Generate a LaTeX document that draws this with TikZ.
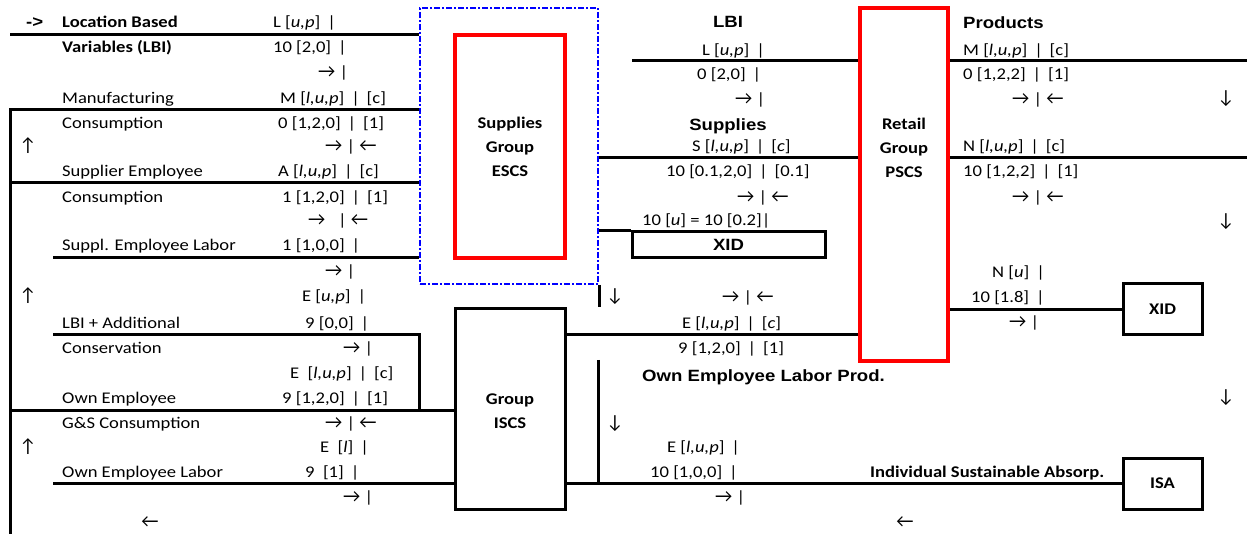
\documentclass[tikz,border=0pt]{standalone}
\usepackage{fontspec}
\setmainfont{Carlito}[FakeStretch=1.14]
\newfontfamily\arialf{Liberation Sans}[FakeStretch=1.14]
\newfontfamily\arrf{Carlito}
\newcommand\myfs{\fontsize{16.3}{19.5}\selectfont}
\newcommand\myra{{\arrf\fontsize{19}{19}\selectfont →}}
\newcommand\myla{{\arrf\fontsize{19}{19}\selectfont ←}}
\tikzset{
 tx/.style={anchor=west, inner sep=0pt, text height=10.5pt, text depth=0pt, font=\myfs},
 txb/.style={tx, font=\myfs\bfseries},
 txa/.style={tx, font=\arialf\bfseries\myfs},
 sym/.style={inner sep=0pt, anchor=center, font=\arrf\fontsize{19}{19}\selectfont},
 ln/.style={line width=3pt},
 bbox/.style={draw, line width=3pt, inner sep=0pt},
 rbox/.style={draw=red, line width=3.5pt, inner sep=0pt},
 dbox/.style={draw=blue, line width=2pt, dash pattern=on 6pt off 2pt on 2pt off 2pt, inner sep=0pt},
 boxlab/.style={align=center, inner sep=0pt, font=\bfseries\fontsize{16.3}{24}\selectfont},
}
\begin{document}
\begin{tikzpicture}[x=1pt,y=-1pt]
\useasboundingbox (0,0) rectangle (1247,534);

% boxes
\node[dbox, minimum width=178pt, minimum height=276pt] (outer) at (509,146) {};
\node[rbox, minimum width=110pt, minimum height=223pt, boxlab] (escs) at (510,146.5) {Supplies\\Group\\ESCS};
\node[rbox, minimum width=88pt, minimum height=353pt] (retail) at (904,184.5) {};
\node[boxlab] (retaillab) at (904,148) {Retail\\Group\\PSCS};
\node[bbox, minimum width=110pt, minimum height=200pt] (iscs) at (510,409) {};
\node[boxlab] (iscslab) at (510,411) {Group\\ISCS};
\node[bbox, minimum width=193pt, minimum height=26pt, font=\arialf\bfseries\myfs] (xid1) at (728.5,245) {XID};
\node[bbox, minimum width=79pt, minimum height=51pt, font=\bfseries\myfs] (xid2) at (1162.5,309.5) {XID};
\node[bbox, minimum width=79pt, minimum height=51pt, font=\bfseries\myfs] (isa) at (1162.5,483.5) {ISA};

% coordinates
\coordinate (p1) at (10,35);
\coordinate (p2) at (10,110);
\coordinate (pb) at (10,534);
\coordinate (p3) at (10,183);
\coordinate (p4) at (53,258);
\coordinate (p5) at (53,335);
\coordinate (p6) at (10,410);
\coordinate (p7) at (53,483);
\coordinate (q1) at (632,61);
\coordinate (q2) at (598,158);
\coordinate (q5) at (598,335);
\coordinate (q6) at (598,360);
\coordinate (e1) at (1247,61);
\coordinate (e2) at (1247,158);

% connectors
\draw[ln] (p1) -- (p1 -| outer.west);
\draw[ln] (p2 -| outer.west) -- (p2) -- (pb);
\draw[ln] (p3) -- (p3 -| outer.west);
\draw[ln] (p4) -- (p4 -| outer.west);
\draw[ln] (p5) -- (p5 -| outer.west) -- (p6 -| outer.west);
\draw[ln] (p6) -- (p6 -| iscs.west);
\draw[ln] (p7) -- (p7 -| iscs.west);
\draw[ln] (q1) -- (q1 -| retail.west);
\draw[ln] (q2 -| outer.east) -- (q2 -| retail.west);
\draw[ln] (xid1.north west -| outer.east) -- (xid1.north west);
\draw[ln] (outer.south east) -- (outer.south east |- iscs.north);
\draw[ln] (q5 -| iscs.east) -- (q5 -| retail.west);
\draw[ln] (q6) -- (q6 |- p7);
\draw[ln] (p7 -| iscs.east) -- (p7 -| isa.west);
\draw[ln] (q1 -| retail.east) -- (e1);
\draw[ln] (q2 -| retail.east) -- (e2);
\draw[ln] (xid2.west -| retail.east) -- (xid2.west);

% left column labels
\node[txa] (arin) at (26,22) {->};
\node[txb] (lA) at (62,22) {Location Based};
\node[txb] (lB) at (62,47) {Variables (LBI)};
\node[tx] (lC) at (62,98) {Manufacturing};
\node[tx] (lD) at (62,123) {Consumption};
\node[tx] (lE) at (62,171) {Supplier Employee};
\node[tx] (lF) at (62,197) {Consumption};
\node[tx] (lG) at (62,245) {Suppl. Employee Labor};
\node[tx] (lH) at (62,323) {LBI + Additional};
\node[tx] (lI) at (62,348) {Conservation};
\node[tx] (lJ) at (62,398) {Own Employee};
\node[tx] (lK) at (62,423) {G\&S Consumption};
\node[tx] (lL) at (62,472) {Own Employee Labor};
\node[sym] (u1) at (28,146) {↑};
\node[sym] (u2) at (28,296) {↑};
\node[sym] (u3) at (28,447) {↑};
\node[sym] (lb) at (150,522) {←};

% left values
\node[tx] (v1) at (273,22) {L [\textit{u,p}] \,|};
\node[tx] (v2) at (273,47) {10 [2,0] \,|};
\node[tx] (v3) at (318,72) {\myra\ |};
\node[tx] (v4) at (280,98) {M [\textit{l,u,p}] \,| \,[c]};
\node[tx] (v5) at (278,123) {0 [1,2,0] \,| \,[1]};
\node[tx] (v6) at (325,146) {\myra\ | \myla};
\node[tx] (v7) at (278,171) {A [\textit{l,u,p}] \,| \,[c]};
\node[tx] (v8) at (282,197) {1 [1,2,0] \,| \,[1]};
\node[tx] (v9) at (308,220) {\myra\ \ \ | \myla};
\node[tx] (v10) at (282,245) {1 [1,0,0] \,|};
\node[tx] (v11) at (325,271) {\myra\ |};
\node[tx] (v12) at (302,296) {E [\textit{u,p}] \,|};
\node[tx] (v13) at (305,323) {9 [0,0] \,|};
\node[tx] (v14) at (343,348) {\myra\ |};
\node[tx] (v15) at (290,373) {E \ [\textit{l,u,p}] \,| \,[c]};
\node[tx] (v16) at (282,398) {9 [1,2,0] \,| \,[1]};
\node[tx] (v17) at (325,423) {\myra\ | \myla};
\node[tx] (v18) at (320,447) {E \ [\textit{l}] \,|};
\node[tx] (v19) at (305,472) {9 \ [1] \,|};
\node[tx] (v20) at (343,497) {\myra\ |};

% middle column
\node[txa, anchor=center] (m1) at (728,22) {LBI};
\node[tx] (m2) at (702,50) {L [\textit{u,p}] \,|};
\node[tx] (m3) at (697,74) {0 [2,0] \,|};
\node[tx] (m4) at (735,99) {\myra\ |};
\node[txa, anchor=center] (m5) at (728,125) {Supplies};
\node[tx] (m6) at (692,146) {S [\textit{l,u,p}] \,| \,[\textit{c}]};
\node[tx] (m7) at (666,171) {10 [0.1,2,0] \,| \,[0.1]};
\node[tx] (m8) at (737,197) {\myra\ | \myla};
\node[tx] (m9) at (642,220) {10 [\textit{u}] = 10 [0.2]|};
\node[sym] (m10) at (615,297) {↓};
\node[tx] (m11) at (722,297) {\myra\ | \myla};
\node[tx] (m12) at (682,323) {E [\textit{l,u,p}] \,| \,[\textit{c}]};
\node[tx] (m13) at (678,348) {9 [1,2,0] \,| \,[1]};
\node[txa] (m14) at (642,376) {Own Employee Labor Prod.};
\node[sym] (m15) at (615,424) {↓};
\node[tx] (m16) at (667,447) {E [\textit{l,u,p}] \,|};
\node[tx] (m17) at (650,472) {10 [1,0,0] \,|};
\node[tx] (m18) at (715,497) {\myra\ |};
\node[txb] (m19) at (870,472) {Individual Sustainable Absorp.};
\node[sym] (m20) at (905,522) {←};

% right column
\node[txa] (r1) at (963,23) {Products};
\node[tx] (r2) at (963,50) {M [\textit{l,u,p}] \,| \,[c]};
\node[tx] (r3) at (963,74) {0 [1,2,2] \,| \,[1]};
\node[tx] (r4) at (1012,99) {\myra\ | \myla};
\node[sym] (r5) at (1226,99) {↓};
\node[tx] (r6) at (963,146) {N [\textit{l,u,p}] \,| \,[c]};
\node[tx] (r7) at (963,171) {10 [1,2,2] \,| \,[1]};
\node[tx] (r8) at (1012,197) {\myra\ | \myla};
\node[sym] (r9) at (1226,222) {↓};
\node[tx] (r10) at (992,272) {N [\textit{u}] \,|};
\node[tx] (r11) at (971,297) {10 [1.8] \,|};
\node[tx] (r12) at (1009,322) {\myra\ |};
\node[sym] (r13) at (1226,398) {↓};
\end{tikzpicture}
\end{document}
